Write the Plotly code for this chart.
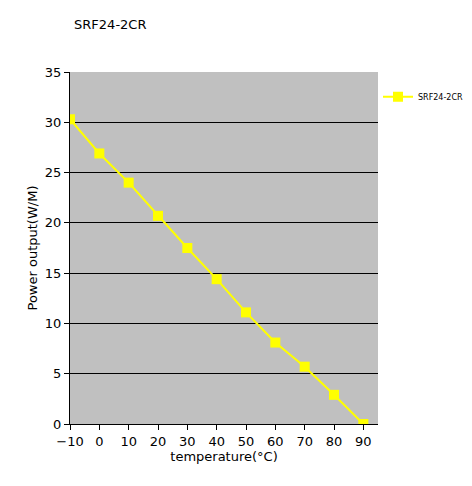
import plotly.graph_objects as go

temperature = [-10, 0, 10, 20, 30, 40, 50, 60, 70, 80, 90]
power_output = [30.3, 26.9, 24.0, 20.7, 17.5, 14.4, 11.1, 8.1, 5.7, 2.9, 0]
x_ticks = [-10, 0, 10, 20, 30, 40, 50, 60, 70, 80, 90]
y_ticks = [0, 5, 10, 15, 20, 25, 30, 35]

fig = go.Figure()
fig.add_trace(
    go.Scatter(
        x=temperature,
        y=power_output,
        mode="lines+markers",
        name="SRF24-2CR",
        line=dict(color="#ffff00", width=2),
        marker=dict(symbol="square", size=10, color="#ffff00"),
    )
)

fig.update_layout(
    width=472,
    height=486,
    paper_bgcolor="white",
    plot_bgcolor="#c0c0c0",
    font=dict(family="DejaVu Sans", size=13, color="black"),
    title=dict(text="SRF24-2CR", x=0.14, y=0.975, font=dict(size=13)),
    margin=dict(l=62, r=88, t=64, b=70),
    showlegend=True,
    legend=dict(x=1.0, y=0.93, xanchor="left", yanchor="middle",
                font=dict(size=8), bgcolor="rgba(0,0,0,0)"),
    xaxis=dict(
        title=dict(text="temperature(°C)", standoff=4, font=dict(size=13)),
        range=[-10, 95],
        tickvals=x_ticks,
        showgrid=False,
        zeroline=False,
        showline=True,
        linecolor="black",
        ticks="outside",
        tickcolor="black",
        automargin=False,
    ),
    yaxis=dict(
        title=dict(text="Power output(W/M)", standoff=4, font=dict(size=13)),
        range=[0, 35],
        tickvals=y_ticks,
        showgrid=True,
        gridcolor="black",
        gridwidth=1,
        zeroline=False,
        showline=True,
        linecolor="black",
        ticks="outside",
        tickcolor="black",
        automargin=False,
    ),
)

fig.write_html("out.html")
